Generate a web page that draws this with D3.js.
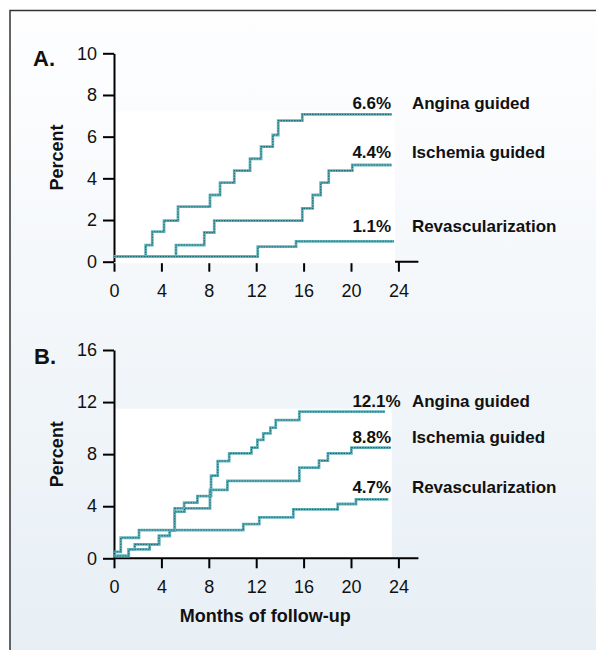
<!DOCTYPE html>
<html>
<head>
<meta charset="utf-8">
<script src="https://cdn.jsdelivr.net/npm/d3@7"></script>
<style>
  body { margin: 0; background: #fff; }
  svg { display: block; font-family: "Liberation Sans", Arial, sans-serif; }
</style>
</head>
<body>
<svg id="chart" width="596" height="650"></svg>
<script>
// x axis (months of follow-up)
const monthTicks = [0, 4, 8, 12, 16, 20, 24];

// panel A
const yTicksA = [0, 2, 4, 6, 8, 10];
const anginaMonthsA = [0, 2.67, 3.23, 4.22, 5.4, 8.1, 8.95, 10.15, 11.48, 12.41, 13.4, 13.86, 15.89, 23.43];
const anginaPctA = [0.25, 0.8, 1.44, 1.97, 2.64, 3.2, 3.79, 4.37, 4.94, 5.52, 6.08, 6.77, 7.07, 7.07];
const ischemiaMonthsA = [0, 5.23, 7.62, 8.46, 15.89, 16.77, 17.44, 18.12, 20.11, 23.43];
const ischemiaPctA = [0.25, 0.8, 1.4, 1.97, 2.56, 3.2, 3.79, 4.37, 4.64, 4.64];
const revascMonthsA = [0, 12.13, 15.36, 23.63];
const revascPctA = [0.25, 0.72, 0.98, 0.98];
const finalLabelsA = ["6.6%", "4.4%", "1.1%"];

// panel B
const yTicksB = [0, 4, 8, 12, 16];
const anginaMonthsB = [0, 1.24, 1.75, 3.8, 4.7, 5.12, 5.92, 7.04, 8.19, 8.75, 9.72, 11.6, 12.1, 12.6, 13.2, 13.65, 15.64, 22.87];
const anginaPctB = [0.18, 0.69, 1.07, 1.73, 2.12, 3.84, 4.27, 4.78, 6.35, 7.47, 8.06, 8.5, 9.09, 9.6, 10.03, 10.62, 11.26, 11.26];
const ischemiaMonthsB = [0, 1.24, 3.01, 3.8, 4.7, 5.12, 5.95, 8.1, 9.57, 15.64, 17.3, 18.05, 20.03, 23.35];
const ischemiaPctB = [0.18, 0.69, 1.07, 1.73, 2.12, 3.58, 3.84, 5.25, 5.94, 6.96, 7.5, 8.06, 8.5, 8.5];
const revascMonthsB = [0, 0.57, 2.11, 10.91, 12.26, 15.13, 18.88, 20.42, 23.15];
const revascPctB = [0.5, 1.58, 2.17, 2.63, 3.15, 3.76, 4.17, 4.53, 4.53];
const finalLabelsB = ["12.1%", "8.8%", "4.7%"];

const seriesNames = ["Angina guided", "Ischemia guided", "Revascularization"];

const FONT = '"Liberation Sans", Arial, sans-serif';
const svg = d3.select("#chart");

// background: light blue gradient inside a frame
const grad = svg.append("defs").append("linearGradient")
  .attr("id", "bg").attr("x1", 0).attr("y1", 0).attr("x2", 0).attr("y2", 1);
grad.append("stop").attr("offset", "0%").attr("stop-color", "#fefeff");
grad.append("stop").attr("offset", "100%").attr("stop-color", "#e7eff5");

svg.append("rect").attr("x", 10).attr("y", 10).attr("width", 586).attr("height", 640).attr("fill", "url(#bg)");
svg.append("path").attr("d", "M10,650V10.5H596").attr("fill", "none").attr("stroke", "#333").attr("stroke-width", 1.5);

const x = d3.scaleLinear().domain([0, 24]).range([114, 398.4]);

function toPoints(months, pct) {
  return months.map((m, i) => [m, pct[i]]);
}

function styleAxis(ax) {
  ax.attr("font-family", FONT).attr("font-size", 18);
  ax.selectAll(".tick line").attr("stroke", "#000").attr("stroke-width", 2);
  ax.selectAll("text").attr("fill", "#111").style("font-size", "18px").style("font-family", FONT);
}

function drawPanel(p) {
  const y = d3.scaleLinear().domain(p.yDomain).range(p.yRange);
  const g = svg.append("g");
  const series = [
    toPoints(p.angina[0], p.angina[1]),
    toPoints(p.ischemia[0], p.ischemia[1]),
    toPoints(p.revasc[0], p.revasc[1]),
  ];
  const topVal = d3.max(series, s => d3.max(s, d => d[1]));
  const rightMonth = d3.max(series, s => d3.max(s, d => d[0]));

  const plotRect = () => g.append("rect")
    .attr("x", x(0))
    .attr("y", y(topVal) - 3)
    .attr("width", x(rightMonth) - x(0) + 1)
    .attr("height", y(0) + (p.coverAxis ? 1.5 : 0) - (y(topVal) - 3))
    .attr("fill", "#fff");

  if (!p.coverAxis) plotRect();

  // x axis
  const xAxis = g.append("g")
    .attr("transform", `translate(0,${y(0)})`)
    .call(d3.axisBottom(x).tickValues(monthTicks).tickSize(10).tickSizeOuter(0).tickPadding(p.xPad));
  xAxis.select(".domain").remove();
  xAxis.append("line")
    .attr("x1", x(0)).attr("x2", x(24) + 20)
    .attr("stroke", "#000").attr("stroke-width", 2);
  styleAxis(xAxis);

  if (p.coverAxis) plotRect();

  // y axis
  const yAxis = g.append("g")
    .attr("transform", `translate(${x(0)},0)`)
    .call(d3.axisLeft(y).tickValues(p.yTicks).tickSize(11).tickSizeOuter(0).tickPadding(6));
  yAxis.select(".domain").attr("stroke", "#000").attr("stroke-width", 2);
  styleAxis(yAxis);

  // step curves
  const line = d3.line()
    .curve(d3.curveStepAfter)
    .x(d => x(d[0]))
    .y(d => y(d[1]));
  series.forEach(s => {
    g.append("path").attr("d", line(s)).attr("fill", "none")
      .attr("stroke", "#66b4bc").attr("stroke-width", 2.8);
    g.append("path").attr("d", line(s)).attr("fill", "none")
      .attr("stroke", "#1e6876").attr("stroke-width", 1.1)
      .attr("stroke-dasharray", "1.6 1.1");
  });

  // end labels
  series.forEach((s, i) => {
    const by = y(s[s.length - 1][1]) - p.labelDy[i];
    g.append("text").attr("x", x(24) - 46).attr("y", by)
      .attr("font-size", 17).attr("font-weight", "bold").attr("fill", "#111")
      .text(p.finals[i]);
    g.append("text").attr("x", x(24) + 13.5).attr("y", by)
      .attr("font-size", 17).attr("font-weight", "bold").attr("fill", "#111")
      .text(seriesNames[i]);
  });

  // panel letter and y title
  g.append("text").attr("x", p.letterX).attr("y", p.letterY)
    .attr("font-size", 22).attr("font-weight", "bold").attr("fill", "#111")
    .text(p.letter);
  const ym = (y.range()[0] + y.range()[1]) / 2;
  g.append("text")
    .attr("transform", `translate(63,${ym}) rotate(-90)`)
    .attr("text-anchor", "middle")
    .attr("font-size", 18).attr("font-weight", "bold").attr("fill", "#111")
    .text("Percent");
}

drawPanel({
  yDomain: [0, 10], yRange: [261.7, 53.3], yTicks: yTicksA,
  angina: [anginaMonthsA, anginaPctA],
  ischemia: [ischemiaMonthsA, ischemiaPctA],
  revasc: [revascMonthsA, revascPctA],
  finals: finalLabelsA, labelDy: [5, 6.7, 9.6],
  coverAxis: true, xPad: 13,
  letter: "A.", letterX: 33, letterY: 65.5
});

drawPanel({
  yDomain: [0, 16], yRange: [558.3, 350], yTicks: yTicksB,
  angina: [anginaMonthsB, anginaPctB],
  ischemia: [ischemiaMonthsB, ischemiaPctB],
  revasc: [revascMonthsB, revascPctB],
  finals: finalLabelsB, labelDy: [5, 5, 6],
  coverAxis: false, xPad: 12,
  letter: "B.", letterX: 34, letterY: 364
});

svg.append("text")
  .attr("x", (x(0) + x(24)) / 2 + 9)
  .attr("y", 622)
  .attr("text-anchor", "middle")
  .attr("font-size", 18).attr("font-weight", "bold").attr("fill", "#111")
  .text("Months of follow-up");
</script>
</body>
</html>
